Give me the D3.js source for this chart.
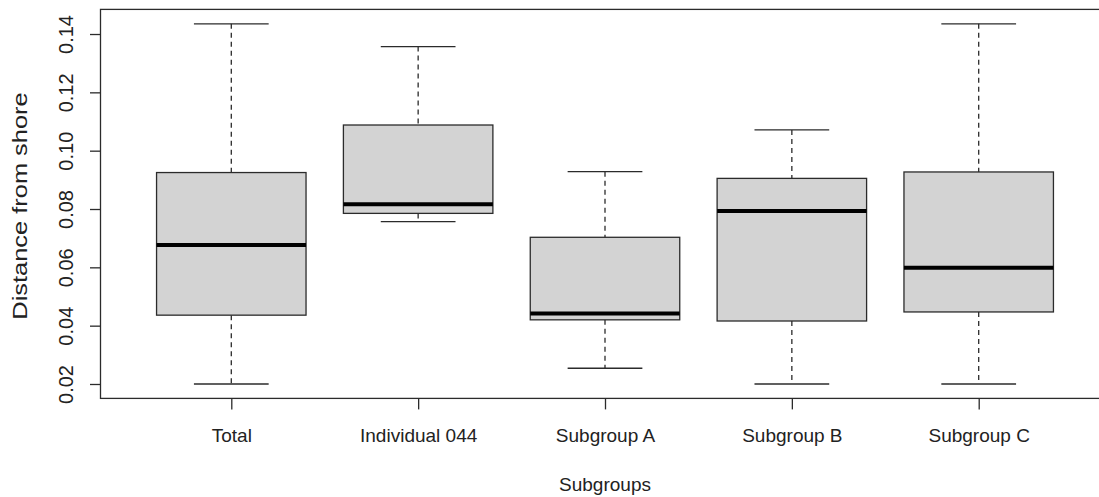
<!DOCTYPE html>
<html>
<head>
<meta charset="utf-8">
<script src="https://cdn.jsdelivr.net/npm/d3@7"></script>
<style>
  html, body { margin: 0; padding: 0; background: #fff; }
  svg { display: block; font-family: "Liberation Sans", Arial, sans-serif; }
</style>
</head>
<body>
<div id="chart"></div>
<script>
// Data
const categories = ["Total", "Individual 044", "Subgroup A", "Subgroup B", "Subgroup C"];
const lowerWhisker = [0.0200, 0.0757, 0.0254, 0.0200, 0.0200];
const q1 = [0.0436, 0.0785, 0.0420, 0.0416, 0.0447];
const medians = [0.0677, 0.0816, 0.0442, 0.0793, 0.0599];
const q3 = [0.0925, 0.1088, 0.0703, 0.0905, 0.0927];
const upperWhisker = [0.1435, 0.1357, 0.0928, 0.1071, 0.1435];
const yTicks = [0.02, 0.04, 0.06, 0.08, 0.10, 0.12, 0.14];

const width = 1099;
const height = 497;

const boxes = categories.map((c, i) => ({
  name: c, pos: i + 1,
  lo: lowerWhisker[i], q1: q1[i], med: medians[i], q3: q3[i], hi: upperWhisker[i]
}));

// R style 4% extension of the axis range
const n = categories.length;
const xPad = 0.04 * n;
const x = d3.scaleLinear()
  .domain([0.5 - xPad, n + 0.5 + xPad])
  .range([100.5, 1109.5]);

const yMin = d3.min(lowerWhisker), yMax = d3.max(upperWhisker);
const yPad = 0.04 * (yMax - yMin);
const y = d3.scaleLinear()
  .domain([yMin - yPad, yMax + yPad])
  .range([398.4, 9.4]);

const boxW = x(1.4) - x(0.6);
const capW = boxW / 2;
const lineCol = "#2b2b2b";

const svg = d3.select("#chart")
  .append("svg")
  .attr("width", width)
  .attr("height", height)
  .attr("viewBox", `0 0 ${width} ${height}`);

svg.append("rect")
  .attr("width", width).attr("height", height)
  .attr("fill", "#fff");

const g = svg.selectAll("g.box")
  .data(boxes)
  .enter()
  .append("g")
  .attr("class", "box");

// whiskers
g.append("line")
  .attr("x1", d => x(d.pos)).attr("x2", d => x(d.pos))
  .attr("y1", d => y(d.hi)).attr("y2", d => y(d.q3))
  .attr("stroke", lineCol).attr("stroke-width", 1.3)
  .attr("stroke-dasharray", "5,4");
g.append("line")
  .attr("x1", d => x(d.pos)).attr("x2", d => x(d.pos))
  .attr("y1", d => y(d.q1)).attr("y2", d => y(d.lo))
  .attr("stroke", lineCol).attr("stroke-width", 1.3)
  .attr("stroke-dasharray", "5,4");

// staples
g.append("line")
  .attr("x1", d => x(d.pos) - capW / 2).attr("x2", d => x(d.pos) + capW / 2)
  .attr("y1", d => y(d.hi)).attr("y2", d => y(d.hi))
  .attr("stroke", lineCol).attr("stroke-width", 1.3);
g.append("line")
  .attr("x1", d => x(d.pos) - capW / 2).attr("x2", d => x(d.pos) + capW / 2)
  .attr("y1", d => y(d.lo)).attr("y2", d => y(d.lo))
  .attr("stroke", lineCol).attr("stroke-width", 1.3);

// boxes
g.append("rect")
  .attr("x", d => x(d.pos) - boxW / 2)
  .attr("width", boxW)
  .attr("y", d => y(d.q3))
  .attr("height", d => y(d.q1) - y(d.q3))
  .attr("fill", "#d3d3d3")
  .attr("stroke", lineCol).attr("stroke-width", 1.3);

// medians
g.append("line")
  .attr("x1", d => x(d.pos) - boxW / 2).attr("x2", d => x(d.pos) + boxW / 2)
  .attr("y1", d => y(d.med)).attr("y2", d => y(d.med))
  .attr("stroke", "#000").attr("stroke-width", 4);

// frame
svg.append("rect")
  .attr("x", x.range()[0]).attr("y", y.range()[1])
  .attr("width", x.range()[1] - x.range()[0])
  .attr("height", y.range()[0] - y.range()[1])
  .attr("fill", "none")
  .attr("stroke", lineCol).attr("stroke-width", 1.3);

// y axis
const yAxis = svg.append("g")
  .attr("transform", `translate(${x.range()[0]},0)`)
  .call(d3.axisLeft(y).tickValues(yTicks).tickFormat(d3.format(".2f")).tickSize(10.5));
yAxis.select(".domain").remove();
yAxis.selectAll(".tick line").attr("stroke", lineCol).attr("stroke-width", 1.3);
yAxis.selectAll(".tick text")
  .attr("x", null).attr("dy", null)
  .attr("transform", "translate(-27.5,0) rotate(-90)")
  .attr("text-anchor", "middle")
  .attr("fill", "#222")
  .style("font-size", "20px")
  .style("font-family", "'Liberation Sans', Arial, sans-serif");

// x axis
const xAxis = svg.append("g")
  .attr("transform", `translate(0,${y.range()[0]})`)
  .call(d3.axisBottom(x)
    .tickValues(boxes.map(d => d.pos))
    .tickFormat((d, i) => categories[i])
    .tickSize(11));
xAxis.select(".domain").remove();
xAxis.selectAll(".tick line").attr("stroke", lineCol).attr("stroke-width", 1.3);
xAxis.selectAll(".tick text")
  .attr("y", 44).attr("dy", null)
  .attr("fill", "#222")
  .style("font-size", "19px")
  .style("font-family", "'Liberation Sans', Arial, sans-serif");

// axis titles
svg.append("text")
  .attr("x", x(3)).attr("y", 491)
  .attr("text-anchor", "middle")
  .attr("fill", "#222")
  .style("font-size", "19px")
  .text("Subgroups");

svg.append("text")
  .attr("transform", `translate(27,206) rotate(-90) scale(1.27,1)`)
  .attr("text-anchor", "middle")
  .attr("fill", "#222")
  .style("font-size", "20px")
  .text("Distance from shore");
</script>
</body>
</html>
